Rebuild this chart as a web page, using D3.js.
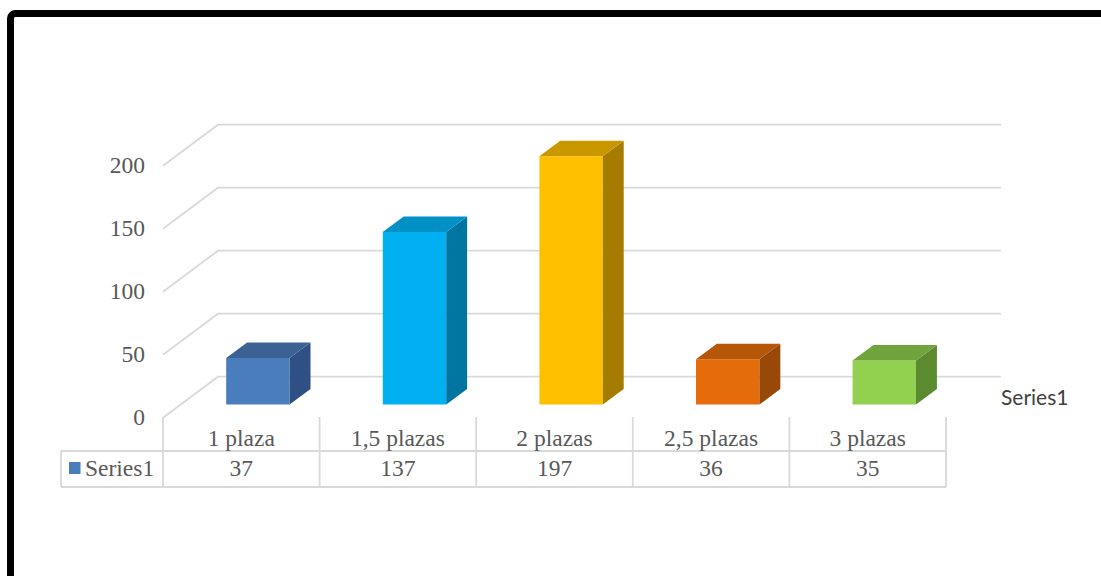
<!DOCTYPE html>
<html>
<head>
<meta charset="utf-8">
<script src="https://cdn.jsdelivr.net/npm/d3@7"></script>
<style>
  html, body { margin: 0; padding: 0; background: #ffffff; }
  svg { display: block; }
</style>
</head>
<body>
<svg id="chart" width="1101" height="576"></svg>
<script>
// ---- data ----
const categories = ["1 plaza", "1,5 plazas", "2 plazas", "2,5 plazas", "3 plazas"];
const values = [37, 137, 197, 36, 35];
const seriesName = "Series1";
const yTicks = [0, 50, 100, 150, 200];
const frontColors = ["#4a7dbb", "#00b0f0", "#ffc000", "#e46c0a", "#92d050"];
const topColors   = ["#3b6293", "#0090c6", "#c99700", "#b55608", "#70a33c"];
const sideColors  = ["#2f5082", "#00759f", "#a67c00", "#984807", "#5c8a31"];

// ---- geometry ----
const svg = d3.select("#chart");
const W = 1101, H = 576;
const plotLeft = 163, plotRight = 946;
const baseFront = 417.7;           // y of value 0 at the front edge
const depthDX = 55, depthDY = -41; // offset from front to back wall
const barFront = 0.32, barBack = 0.70;
const gray = "#d9d9d9";
const textGray = "#595959";
const serif = "Liberation Serif, Times New Roman, serif";
const fs = 23.5;

const x = d3.scaleBand().domain(categories).range([plotLeft, plotRight]).paddingInner(0).paddingOuter(0);
const h = d3.scaleLinear().domain([0, 200]).range([0, 252]);

function proj(px, depth, v) {
  return [px + depth * depthDX, baseFront + depth * depthDY - h(v)];
}

// frame
svg.append("rect")
  .attr("x", 10.5).attr("y", 13.5)
  .attr("width", W + 20).attr("height", H + 20)
  .attr("rx", 5).attr("ry", 5)
  .attr("fill", "none").attr("stroke", "#000").attr("stroke-width", 7);

// gridlines (side diagonal + back wall line)
const grid = svg.append("g");
yTicks.forEach(t => {
  const p0 = proj(plotLeft, 0, t), p1 = proj(plotLeft, 1, t), p2 = proj(plotRight, 1, t);
  grid.append("polyline")
    .attr("points", [p0, p1, p2].map(p => p.join(",")).join(" "))
    .attr("fill", "none").attr("stroke", gray).attr("stroke-width", 1.8);
});

// y labels
svg.append("g").selectAll("text").data(yTicks).join("text")
  .attr("x", 145)
  .attr("y", d => proj(plotLeft, 0, d)[1] + 7.5)
  .attr("text-anchor", "end")
  .attr("font-family", serif)
  .attr("font-size", fs)
  .attr("fill", textGray)
  .text(d => d);

// bars
const bw = x.bandwidth() * 0.405;
const bars = svg.append("g");
categories.forEach((c, i) => {
  const xl = x(c) + (x.bandwidth() - bw) / 2 - 1;
  const xr = xl + bw;
  const v = values[i];
  const fbl = proj(xl, barFront, 0), fbr = proj(xr, barFront, 0);
  const ftl = proj(xl, barFront, v), ftr = proj(xr, barFront, v);
  const bbr = proj(xr, barBack, 0);
  const btl = proj(xl, barBack, v), btr = proj(xr, barBack, v);
  const poly = pts => pts.map(p => p.join(",")).join(" ");
  bars.append("polygon").attr("points", poly([fbl, fbr, ftr, ftl])).attr("fill", frontColors[i]);
  bars.append("polygon").attr("points", poly([fbr, bbr, btr, ftr])).attr("fill", sideColors[i]);
  bars.append("polygon").attr("points", poly([ftl, ftr, btr, btl])).attr("fill", topColors[i]);
});

// series label on the right
svg.append("text")
  .attr("x", 1001).attr("y", 405)
  .attr("font-family", "Lato, Open Sans, sans-serif")
  .attr("font-size", 21)
  .attr("fill", "#404040")
  .text(seriesName);

// data table
const tY0 = 417, tY1 = 451, tY2 = 487, tLeft = 61;
const table = svg.append("g").attr("stroke", gray).attr("stroke-width", 1.8);
const bounds = categories.map(c => x(c)).concat([plotRight]);
bounds.forEach(b => table.append("line").attr("x1", b).attr("x2", b).attr("y1", tY0).attr("y2", tY2));
table.append("line").attr("x1", tLeft).attr("x2", tLeft).attr("y1", tY1).attr("y2", tY2);
table.append("line").attr("x1", tLeft).attr("x2", plotRight).attr("y1", tY1).attr("y2", tY1);
table.append("line").attr("x1", tLeft).attr("x2", plotRight).attr("y1", tY2).attr("y2", tY2);

svg.append("g").selectAll("text").data(categories).join("text")
  .attr("x", d => x(d) + x.bandwidth() / 2)
  .attr("y", 446)
  .attr("text-anchor", "middle")
  .attr("font-family", serif).attr("font-size", fs).attr("fill", textGray)
  .text(d => d);

svg.append("g").selectAll("text").data(values).join("text")
  .attr("x", (d, i) => x(categories[i]) + x.bandwidth() / 2)
  .attr("y", 476)
  .attr("text-anchor", "middle")
  .attr("font-family", serif).attr("font-size", fs).attr("fill", textGray)
  .text(d => d);

svg.append("rect").attr("x", 69).attr("y", 462).attr("width", 11.5).attr("height", 12).attr("fill", frontColors[0]);
svg.append("text").attr("x", 85).attr("y", 476)
  .attr("font-family", serif).attr("font-size", fs).attr("fill", textGray)
  .text(seriesName);
</script>
</body>
</html>
